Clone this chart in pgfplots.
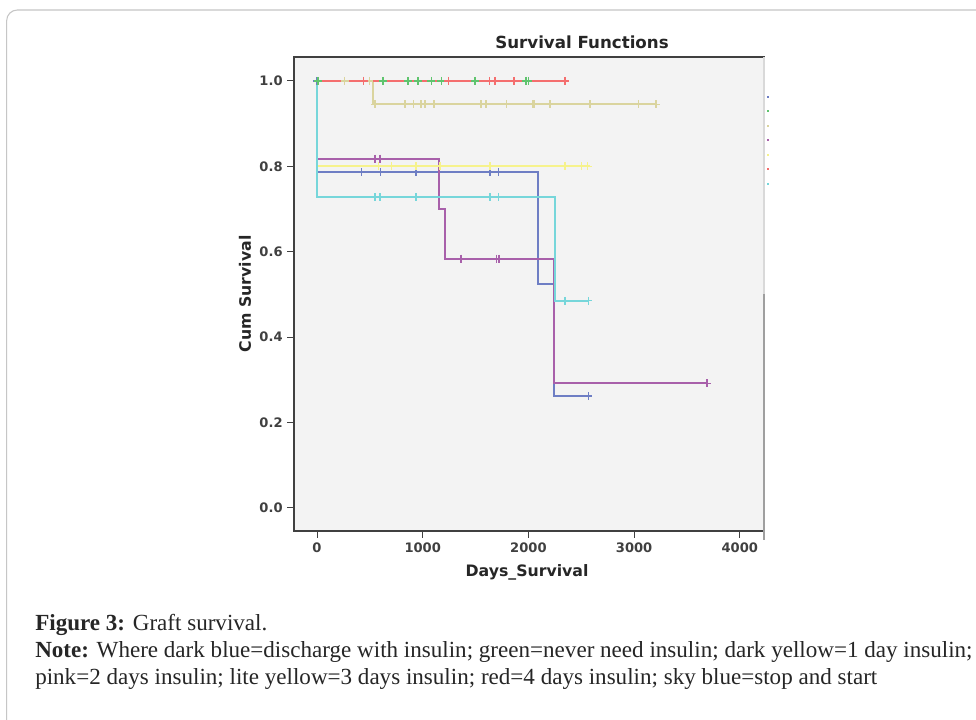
\documentclass[border=0pt]{standalone}
\usepackage{fontspec}
\setmainfont{Liberation Serif}
\newfontfamily\chartfont{DejaVu Sans}
\usepackage{pgfplots}
\pgfplotsset{compat=1.18}

\definecolor{cdblue}{RGB}{110,126,196}
\definecolor{cgreen}{RGB}{95,196,110}
\definecolor{ckhaki}{RGB}{218,212,158}
\definecolor{cpurple}{RGB}{168,96,170}
\definecolor{cyellow}{RGB}{246,242,140}
\definecolor{cred}{RGB}{244,110,110}
\definecolor{csky}{RGB}{118,214,218}
\definecolor{cbg}{RGB}{243,243,243}

\begin{document}
\begin{tikzpicture}
\clip (0,0) rectangle (732pt,540pt);
\fill[white] (0,0) rectangle (732pt,540pt);
\draw[gray!45, line width=0.8pt, rounded corners=8pt] (5pt,532.5pt) rectangle (760pt,-20pt);

\begin{axis}[
  at={(220.5pt,141.75pt)}, anchor=south west,
  scale only axis, width=352.5pt, height=355.5pt,
  xmin=-218, xmax=4229, ymin=-0.054, ymax=1.056,
  axis background/.style={fill=cbg},
  axis line style={black!75, line width=0.8pt},
  xtick={0,1000,2000,3000,4000},
  ytick={0,0.2,0.4,0.6,0.8,1.0},
  yticklabel style={/pgf/number format/.cd, fixed, fixed zerofill, precision=1},
  /pgf/number format/1000 sep={},
  /pgf/number format/assume math mode=true,
  tick align=outside, xtick pos=bottom, ytick pos=left,
  major tick length=5pt,
  tick style={black!75, line width=0.8pt},
  ticklabel style={font=\chartfont\bfseries\fontsize{9.8}{11}\selectfont, text=black!75},
  clip=false,
  legend style={at={(rel axis cs:1.004,0.932)}, anchor=north west, draw=none, fill=none,
    font=\fontsize{6}{6}\selectfont, row sep=0pt, inner sep=0pt,
    nodes={inner sep=0pt}},
  legend image code/.code={\draw[#1, line width=1.5pt] (0pt,0pt) -- (1.5pt,0pt);},
  legend entries={\rule{0pt}{9.4pt},\rule{0pt}{9.4pt},\rule{0pt}{9.4pt},\rule{0pt}{9.4pt},\rule{0pt}{9.4pt},\rule{0pt}{9.4pt},\rule{0pt}{9.4pt}},
]
% discharge with insulin
\addplot[const plot, cdblue, line width=1.5pt] coordinates {(0,1) (0,0.787) (2088,0.525) (2245,0.262) (2567,0.262)};
% never need insulin
\addplot[const plot, cgreen, line width=1.5pt] coordinates {(0,1) (1999,1)};
% 1 day insulin
\addplot[const plot, ckhaki, line width=1.5pt] coordinates {(0,1) (527,0.945) (3210,0.945)};
% 2 days insulin
\addplot[const plot, cpurple, line width=1.5pt] coordinates {(0,1) (0,0.818) (1157,0.701) (1211,0.584) (2245,0.292) (3690,0.292)};
% 3 days insulin
\addplot[const plot, cyellow, line width=1.5pt] coordinates {(0,1) (0,0.8) (2583,0.8)};
% 4 days insulin
\addplot[const plot, cred, line width=1.5pt] coordinates {(0,1) (2346,1)};
% stop and start
\addplot[const plot, csky, line width=1.5pt] coordinates {(0,1) (0,0.727) (2252,0.485) (2567,0.485)};

% censored cases
\addplot[forget plot, only marks, mark=+, mark size=3pt, cdblue, line width=0.9pt] coordinates {
  (0,1) (423,0.787) (602,0.787) (937,0.787) (1637,0.787) (1719,0.787) (2567,0.262)};
\addplot[forget plot, only marks, mark=+, mark size=3pt, cgreen, line width=0.9pt] coordinates {
  (10,1) (440,1) (624,1) (861,1) (955,1) (1081,1) (1176,1) (1495,1) (1977,1) (1999,1)};
\addplot[forget plot, only marks, mark=+, mark size=3pt, ckhaki, line width=0.9pt] coordinates {
  (262,1) (495,1) (549,0.945) (833,0.945) (911,0.945) (984,0.945) (1022,0.945) (1107,0.945)
  (1552,0.945) (1599,0.945) (1795,0.945) (2040,0.945) (2053,0.945) (2205,0.945) (2583,0.945)
  (3040,0.945) (3207,0.945)};
\addplot[forget plot, only marks, mark=+, mark size=3pt, cpurple, line width=0.9pt] coordinates {
  (549,0.818) (596,0.818) (1362,0.584) (1700,0.584) (1722,0.584) (3690,0.292)};
\addplot[forget plot, only marks, mark=+, mark size=3pt, cyellow, line width=0.9pt] coordinates {
  (580,0.8) (706,0.8) (937,0.8) (1164,0.8) (1637,0.8) (2346,0.8) (2504,0.8) (2560,0.8)};
\addplot[forget plot, only marks, mark=+, mark size=3pt, cred, line width=0.9pt] coordinates {
  (440,1) (1242,1) (1630,1) (1684,1) (1864,1) (2346,1)};
\addplot[forget plot, only marks, mark=+, mark size=3pt, csky, line width=0.9pt] coordinates {
  (549,0.727) (596,0.727) (937,0.727) (1637,0.727) (1719,0.727) (2346,0.485) (2567,0.485)};

\draw[gray!30, line width=1.2pt] (rel axis cs:1,1) -- (rel axis cs:1,0.5);
\draw[gray!75, line width=1.2pt] (rel axis cs:1,0.5) -- (rel axis cs:1,-0.02);
\end{axis}

\node[font=\chartfont\bfseries\fontsize{12.5}{15}\selectfont, text=black!85] at (436.5pt,508.5pt) {Survival Functions};
\node[rotate=90, font=\chartfont\bfseries\fontsize{11.8}{14}\selectfont, text=black!85] at (183.75pt,319.5pt) {Cum Survival};
\node[font=\chartfont\bfseries\fontsize{11.8}{14}\selectfont, text=black!85] at (395.25pt,111pt) {Days\_Survival};

\node[anchor=base west, inner sep=0pt, font=\fontsize{17.3}{20}\selectfont, text=black!85] at (26.25pt,66.75pt) {\textbf{Figure 3:} Graft survival.};
\node[anchor=base west, inner sep=0pt, font=\fontsize{17.3}{20}\selectfont, text=black!85] at (26.25pt,46.5pt) {\textbf{Note:} Where dark blue=discharge with insulin; green=never need insulin; dark yellow=1 day insulin;};
\node[anchor=base west, inner sep=0pt, font=\fontsize{17.3}{20}\selectfont, text=black!85] at (26.25pt,26.25pt) {pink=2 days insulin; lite yellow=3 days insulin; red=4 days insulin; sky blue=stop and start};
\end{tikzpicture}
\end{document}
